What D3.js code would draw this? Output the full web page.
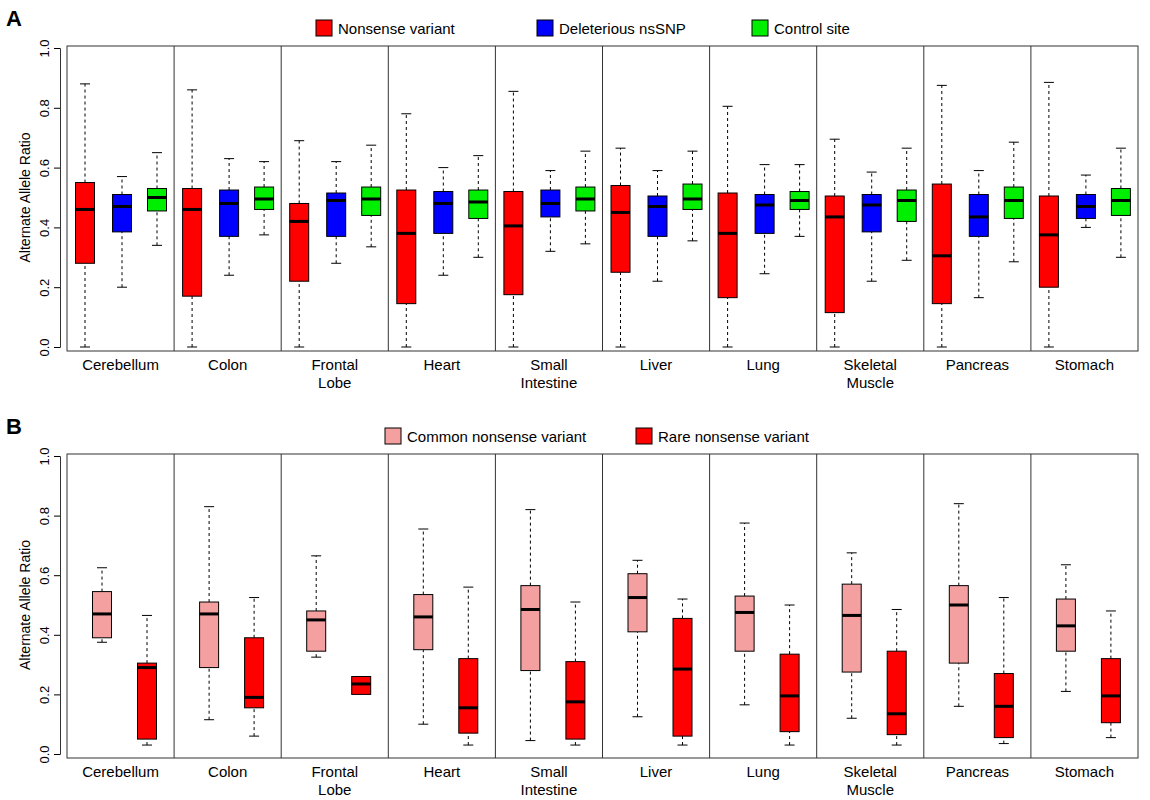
<!DOCTYPE html>
<html lang="en">
<head>
<meta charset="UTF-8" />
<script src="https://d3js.org/d3.v7.min.js"></script>
<style>
  body { margin: 0; background: #fff; }
  svg { font-family: "Liberation Sans", Arial, sans-serif; }
</style>
</head>
<body>
<svg id="chart" width="1150" height="800"></svg>
<script>
const tissues = [["Cerebellum"], ["Colon"], ["Frontal", "Lobe"], ["Heart"], ["Small", "Intestine"],
  ["Liver"], ["Lung"], ["Skeletal", "Muscle"], ["Pancreas"], ["Stomach"]];
const yTicks = [0, 0.2, 0.4, 0.6, 0.8, 1.0];

// [min, q1, median, q3, max] per tissue
const nonsense = [
  [0, .28, .46, .55, .88], [0, .17, .46, .53, .86], [0, .22, .42, .48, .69], [0, .145, .38, .525, .78],
  [0, .175, .405, .52, .855], [0, .25, .45, .54, .665], [0, .165, .38, .515, .805], [0, .115, .435, .505, .695],
  [0, .145, .305, .545, .875], [0, .20, .375, .505, .885]];
const deleterious = [
  [.20, .385, .47, .51, .57], [.24, .37, .48, .525, .63], [.28, .37, .49, .515, .62], [.24, .38, .48, .52, .60],
  [.32, .435, .48, .525, .59], [.22, .37, .47, .505, .59], [.245, .38, .475, .51, .61], [.22, .385, .475, .51, .585],
  [.165, .37, .435, .51, .59], [.40, .43, .47, .51, .575]];
const control = [
  [.34, .455, .50, .53, .65], [.375, .46, .495, .535, .62], [.335, .44, .495, .535, .675], [.30, .43, .485, .525, .64],
  [.345, .455, .495, .535, .655], [.355, .46, .495, .545, .655], [.37, .46, .49, .52, .61], [.29, .42, .49, .525, .665],
  [.285, .43, .49, .535, .685], [.30, .44, .49, .53, .665]];
const commonNonsense = [
  [.375, .39, .47, .545, .625], [.115, .29, .47, .51, .83], [.325, .345, .45, .48, .665], [.10, .35, .46, .535, .755],
  [.045, .28, .485, .565, .82], [.125, .41, .525, .605, .65], [.165, .345, .475, .53, .775], [.12, .275, .465, .57, .675],
  [.16, .305, .50, .565, .84], [.21, .345, .43, .52, .635]];
const rareNonsense = [
  [.03, .05, .29, .305, .465], [.06, .155, .19, .39, .525], [.20, .20, .235, .26, .26], [.03, .07, .155, .32, .56],
  [.03, .05, .175, .31, .51], [.03, .06, .285, .455, .52], [.03, .075, .195, .335, .50], [.03, .065, .135, .345, .485],
  [.035, .055, .16, .27, .525], [.055, .105, .195, .32, .48]];

const svg = d3.select('#chart');
const x = d3.scaleBand().domain(d3.range(10)).range([67, 1138]).padding(0);

function panel(letter, top, bottom, series, legendX) {
  const y = d3.scaleLinear().domain([0, 1]).range([bottom, top]);
  const g = svg.append('g');
  g.append('rect').attr('x', 67).attr('y', top - 2).attr('width', 1071).attr('height', bottom - top + 6)
    .attr('fill', 'none').attr('stroke', '#333');
  d3.range(1, 10).forEach(i => g.append('line').attr('x1', x(i)).attr('x2', x(i))
    .attr('y1', top - 2).attr('y2', bottom + 4).attr('stroke', '#333'));

  const ax = g.append('g').attr('transform', 'translate(60,0)')
    .call(d3.axisLeft(y).tickValues(yTicks).tickFormat(d3.format('.1f')).tickSize(6));
  ax.select('.domain').attr('stroke', '#333');
  ax.selectAll('text').attr('font-size', 13).attr('fill', '#000')
    .attr('x', -11).attr('y', 0).attr('dy', 0)
    .attr('transform', 'rotate(-90,-11,0)').attr('text-anchor', 'middle');
  g.append('text').attr('transform', `translate(30,${(top + bottom) / 2}) rotate(-90)`)
    .attr('text-anchor', 'middle').attr('font-size', 14).text('Alternate Allele Ratio');
  g.append('text').attr('x', 6).attr('y', top - 22).attr('font-size', 22).attr('font-weight', 'bold').text(letter);

  series.forEach(s => {
    s.data.forEach((d, i) => {
      const cx = x(i) + s.offset, w = 19;
      const bg = g.append('g');
      [[d[0], d[1]], [d[3], d[4]]].forEach(([a, b]) => {
        if (b > a) bg.append('line').attr('x1', cx).attr('x2', cx).attr('y1', y(a)).attr('y2', y(b))
          .attr('stroke', '#000').attr('stroke-dasharray', '3,3');
      });
      [d[0], d[4]].forEach(v => {
        if (d[0] !== d[1] || v !== d[0]) bg.append('line').attr('x1', cx - 5).attr('x2', cx + 5)
          .attr('y1', y(v)).attr('y2', y(v)).attr('stroke', '#000');
      });
      bg.append('rect').attr('x', cx - w / 2).attr('width', w).attr('y', y(d[3]))
        .attr('height', y(d[1]) - y(d[3])).attr('fill', s.color).attr('stroke', '#000');
      bg.append('line').attr('x1', cx - w / 2).attr('x2', cx + w / 2).attr('y1', y(d[2])).attr('y2', y(d[2]))
        .attr('stroke', '#000').attr('stroke-width', 3);
    });
  });

  tissues.forEach((t, i) => {
    const tx = g.append('text').attr('x', x(i) + x.bandwidth() / 2).attr('y', bottom + 23)
      .attr('text-anchor', 'middle').attr('font-size', 15);
    t.forEach((l, j) => tx.append('tspan').attr('x', x(i) + x.bandwidth() / 2).attr('dy', j ? 18 : 0).text(l));
  });

  series.forEach((s, i) => {
    g.append('rect').attr('x', legendX[i]).attr('y', top - 28).attr('width', 16).attr('height', 16)
      .attr('fill', s.color).attr('stroke', '#000');
    g.append('text').attr('x', legendX[i] + 22).attr('y', top - 14).attr('font-size', 15).text(s.name);
  });
}

panel('A', 48, 347, [
  { name: 'Nonsense variant', data: nonsense, color: '#ff0000', offset: 18 },
  { name: 'Deleterious nsSNP', data: deleterious, color: '#0000ff', offset: 55 },
  { name: 'Control site', data: control, color: '#00ee00', offset: 90 }
], [316, 537, 752]);

panel('B', 456, 754, [
  { name: 'Common nonsense variant', data: commonNonsense, color: '#f4a0a0', offset: 35 },
  { name: 'Rare nonsense variant', data: rareNonsense, color: '#ff0000', offset: 80 }
], [385, 636]);
</script>
</body>
</html>
